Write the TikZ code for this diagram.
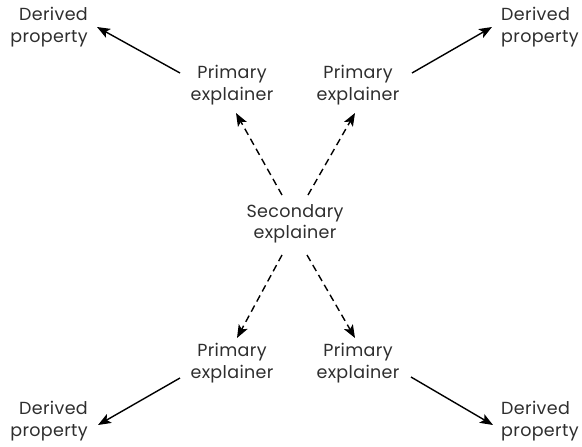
\documentclass[tikz,border=0pt]{standalone}
\usepackage{fontspec}
\setmainfont{Poppins}[LetterSpace=2]
\usetikzlibrary{calc,arrows.meta}
\definecolor{ink}{HTML}{2E2E2E}
\tikzset{
  label text/.style={text=ink, font=\fontsize{17.5}{21.5}\selectfont, inner sep=0pt, align=center},
  derived/.style={label text},
  explains/.style={-{Stealth[length=13pt,width=10pt,inset=3pt]}, line width=1.4pt, black},
  supports/.style={explains, dash pattern=on 7pt off 4.5pt},
}
\begin{document}
\begin{tikzpicture}[x=1pt,y=-1pt]
  \useasboundingbox (0,0) rectangle (582,447);

  % derived properties in the four corners
  \node[derived, align=right, anchor=east] (dTL) at (88,27)   {Derived\\property};
  \node[derived, align=left,  anchor=west] (dTR) at (501,27)  {Derived\\property};
  \node[derived, align=right, anchor=east] (dBL) at (88,421)  {Derived\\property};
  \node[derived, align=left,  anchor=west] (dBR) at (501,421) {Derived\\property};

  % primary explainers
  \node[label text] (pTL) at (232,85)  {Primary\\explainer};
  \node[label text] (pTR) at (358,85)  {Primary\\explainer};
  \node[label text] (pBL) at (232,363) {Primary\\explainer};
  \node[label text] (pBR) at (358,363) {Primary\\explainer};

  % secondary explainer in the middle
  \node[label text] (s) at (295,224) {Secondary\\explainer};

  % secondary -> primary (dashed)
  \draw[supports] ($(s)+(-13,-29)$) -- ($(pTL)+(4,28)$);
  \draw[supports] ($(s)+(13,-29)$)  -- ($(pTR)+(-3,28)$);
  \draw[supports] ($(s)+(-13,31)$)  -- ($(pBL)+(5,-25)$);
  \draw[supports] ($(s)+(12,31)$)   -- ($(pBR)+(-3,-25)$);

  % primary -> derived (solid)
  \draw[explains] ($(pTL)+(-52,-12)$) -- ($(dTL.east)+(9,0)$);
  \draw[explains] ($(pTR)+(54,-12)$)  -- ($(dTR.west)+(-9,0)$);
  \draw[explains] ($(pBL)+(-52,15)$)  -- ($(dBL.east)+(10,4)$);
  \draw[explains] ($(pBR)+(53,14)$)   -- ($(dBR.west)+(-8,4)$);
\end{tikzpicture}
\end{document}
